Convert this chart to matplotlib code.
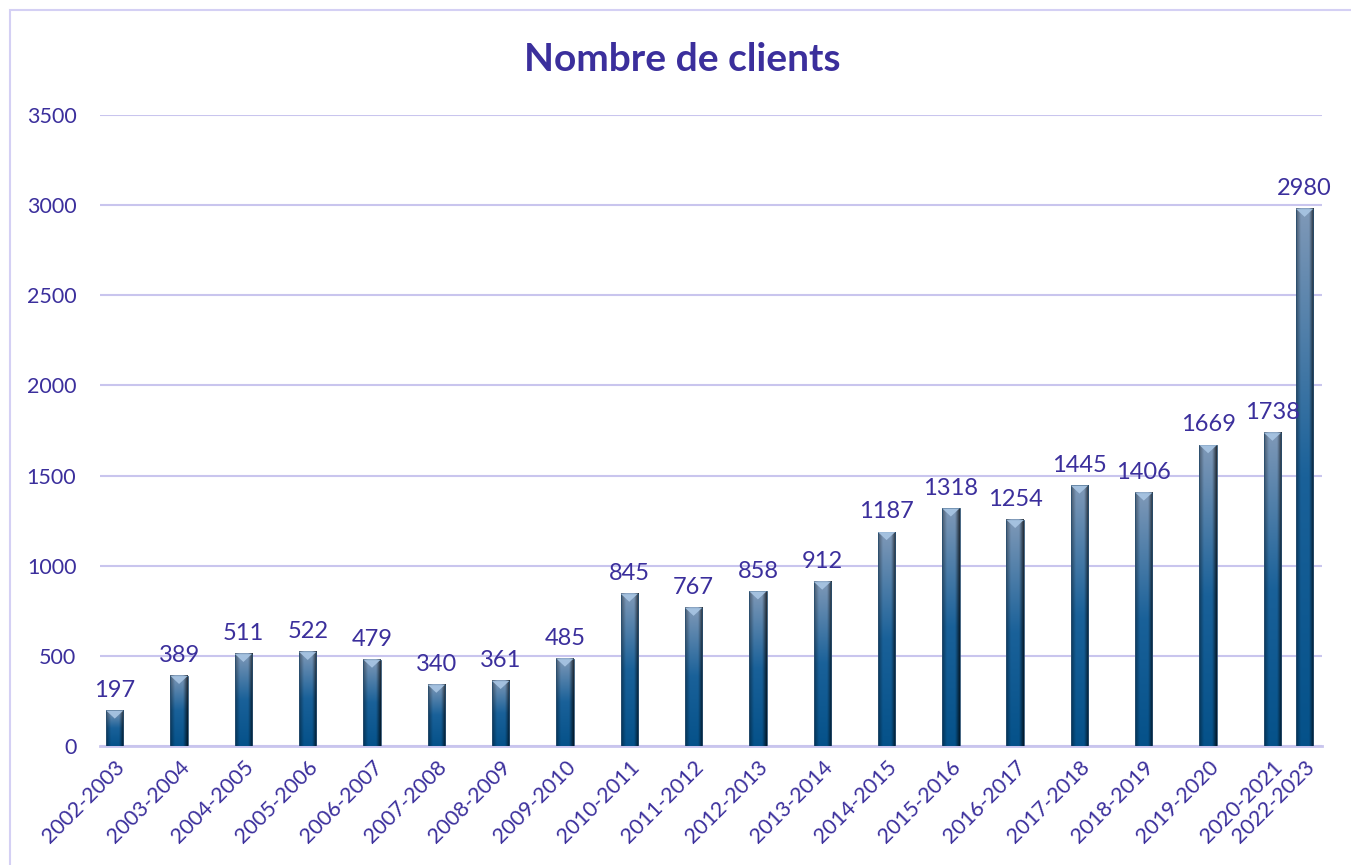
import numpy as np
import matplotlib
matplotlib.use("Agg")
import matplotlib.pyplot as plt
from matplotlib.patches import Rectangle, Polygon


saisons = [
    "2002-2003", "2003-2004", "2004-2005", "2005-2006", "2006-2007",
    "2007-2008", "2008-2009", "2009-2010", "2010-2011", "2011-2012",
    "2012-2013", "2013-2014", "2014-2015", "2015-2016", "2016-2017",
    "2017-2018", "2018-2019", "2019-2020", "2020-2021", "2022-2023",
]
clients = [
    197, 389, 511, 522, 479, 340, 361, 485, 845, 767,
    858, 912, 1187, 1318, 1254, 1445, 1406, 1669, 1738, 2980,
]
y_ticks = [0, 500, 1000, 1500, 2000, 2500, 3000, 3500]

TEXT_COLOR = "#3b2f9c"
GRID_COLOR = "#c9c5ee"
BAR_WIDTH = 0.27
FONT = ["Lato", "DejaVu Sans"]


def bar_gradient():
    """Farbverlauf fuer einen Balken: oben grau-blau, unten blau, Raender dunkler."""
    ny, nx = 200, 40
    top = np.array([0.50, 0.60, 0.72])
    mid = np.array([0.10, 0.38, 0.60])
    bottom = np.array([0.02, 0.32, 0.54])
    t = np.linspace(0, 1, ny)[:, None, None]
    upper = top * (1 - t / 0.5) + mid * (t / 0.5)
    lower = mid * (1 - (t - 0.5) / 0.5) + bottom * ((t - 0.5) / 0.5)
    vert = np.where(t < 0.5, upper, lower)
    vert = np.repeat(vert, nx, axis=1)
    xx = np.linspace(-1, 1, nx)
    shade = 1.0 - 0.40 * np.clip(np.abs(xx) - 0.45, 0, None) / 0.55
    shade = shade - 0.30 * (xx > 0.5) * (xx - 0.5) / 0.5
    img = vert * shade[None, :, None]
    return np.clip(img, 0, 1)


def main():
    fig = plt.figure(figsize=(13.51, 8.65), dpi=100)
    ax = fig.add_axes([0.074, 0.1376, 0.9045, 0.7294])

    # Rahmen um das Diagramm
    fig.patches.append(Rectangle((10 / 1351, -0.1), 1.2, 1 - 10 / 865 + 0.1,
                                 transform=fig.transFigure, fill=False,
                                 edgecolor="#d4d0f4", linewidth=1.5))

    x = np.arange(len(saisons), dtype=float)
    x[-1] -= 0.5  # letzte Saison rueckt im Original naeher heran

    grad = bar_gradient()
    for xi, val in zip(x, clients):
        x0, x1 = xi - BAR_WIDTH / 2, xi + BAR_WIDTH / 2
        ax.imshow(grad, extent=(x0, x1, 0, val), aspect="auto",
                  interpolation="bilinear", zorder=3)
        ax.add_patch(Rectangle((x0, 0), BAR_WIDTH, val, fill=False,
                               edgecolor="#2a4f70", linewidth=0.6, zorder=4))
        tri_h = 45
        ax.add_patch(Polygon([(x0, val), (x1, val), (xi, val - tri_h)],
                             closed=True, facecolor="#a9c6e4", edgecolor="none",
                             alpha=0.9, zorder=4))
        ax.annotate(str(val), (xi, val), xytext=(0, 7), textcoords="offset points",
                    ha="center", va="bottom", fontsize=17, color=TEXT_COLOR,
                    family=FONT, zorder=5)

    ax.set_xlim(-0.23, 18.77)
    ax.set_ylim(0, 3500)
    ax.set_yticks(y_ticks)
    ax.set_yticklabels([str(v) for v in y_ticks], fontsize=15.5, color=TEXT_COLOR,
                       family=FONT)
    ax.set_xticks(x)
    ax.set_xticklabels(saisons, rotation=45, ha="right", rotation_mode="anchor",
                       fontsize=15.5, color=TEXT_COLOR, family=FONT)
    ax.tick_params(axis="both", length=0)
    ax.tick_params(axis="y", pad=17)
    ax.tick_params(axis="x", pad=8)

    ax.grid(axis="y", color=GRID_COLOR, linewidth=1.5, zorder=0)
    ax.set_axisbelow(True)
    for side in ["top", "right", "left"]:
        ax.spines[side].set_visible(False)
    ax.spines["bottom"].set_color(GRID_COLOR)
    ax.spines["bottom"].set_linewidth(2)

    fig.text(0.505, 0.931, "Nombre de clients", ha="center", va="center",
             fontsize=28, fontweight="bold", color=TEXT_COLOR, family=FONT)

    fig.savefig("out.png", dpi=100)


if __name__ == "__main__":
    main()
